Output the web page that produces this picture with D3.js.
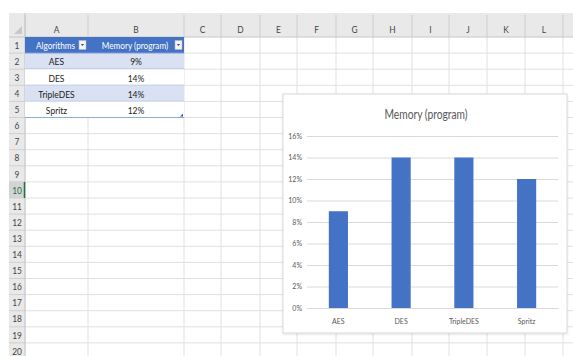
<!DOCTYPE html>
<html><head><meta charset="utf-8">
<script src="https://cdn.jsdelivr.net/npm/d3@7"></script>
<style>
body{margin:0;background:#fff;}
svg{display:block;font-family:Lato,"Open Sans",sans-serif;}
</style>
</head><body>
<svg id="c" width="573" height="356"></svg>
<script>
// ---- data ----
const categories = ["AES", "DES", "TripleDES", "Spritz"];
const memoryValues = [0.09, 0.14, 0.14, 0.12];
const yTicks = [0, 0.02, 0.04, 0.06, 0.08, 0.10, 0.12, 0.14, 0.16];
const tableHeaders = ["Algorithms", "Memory (program)"];
const columnLetters = ["A","B","C","D","E","F","G","H","I","J","K","L",""];
const rowNumbers = d3.range(1, 21);
const chartTitle = "Memory (program)";

// ---- layout ----
const svg = d3.select("#c");
const colEdges = [25, 88, 184, 221, 260, 297, 336, 373, 412, 449, 487, 525, 563, 601];
const headTop = 13, headBot = 37, rowH = 16.1, rowHeadL = 9;
const rowY = d3.scaleLinear().domain([1, 2]).range([headBot, headBot + rowH]); // top of row r

function txt(g, x, y, s, o) {
  o = o || {};
  return g.append("text")
    .attr("transform", `translate(${x},${y}) scale(${o.sx || 0.88},1)`)
    .attr("text-anchor", o.anchor || "middle")
    .attr("dominant-baseline", "central")
    .attr("font-size", o.size || 9)
    .attr("font-weight", o.weight || 400)
    .attr("fill", o.fill || "#333")
    .text(s);
}

// header row background
svg.append("rect").attr("x", rowHeadL).attr("y", headTop).attr("width", 573 - rowHeadL).attr("height", headBot - headTop).attr("fill", "#e9e9e9");
// row header background
svg.append("rect").attr("x", rowHeadL).attr("y", headBot).attr("width", colEdges[0] - rowHeadL).attr("height", 356 - headBot).attr("fill", "#e9e9e9");
// corner triangle
svg.append("path").attr("d", `M${colEdges[0]-3},${headBot-3} L${colEdges[0]-3},${headBot-11} L${colEdges[0]-11},${headBot-3} Z`).attr("fill", "#c8c8c8");

// grid lines
const grid = svg.append("g");
colEdges.forEach(x => grid.append("line").attr("x1", x).attr("x2", x).attr("y1", headBot).attr("y2", 356).attr("stroke", "#e0e0e0").attr("stroke-width", 1));
rowNumbers.forEach(r => grid.append("line").attr("x1", colEdges[0]).attr("x2", 573).attr("y1", rowY(r + 1)).attr("y2", rowY(r + 1)).attr("stroke", "#e0e0e0"));
// header separators
colEdges.forEach(x => svg.append("line").attr("x1", x).attr("x2", x).attr("y1", headTop + 2).attr("y2", headBot).attr("stroke", "#cdcdcd"));
rowNumbers.forEach(r => svg.append("line").attr("x1", rowHeadL).attr("x2", colEdges[0]).attr("y1", rowY(r + 1)).attr("y2", rowY(r + 1)).attr("stroke", "#d0d0d0"));
svg.append("line").attr("x1", rowHeadL).attr("x2", 573).attr("y1", headBot).attr("y2", headBot).attr("stroke", "#c6c6c6");
svg.append("line").attr("x1", colEdges[0]).attr("x2", colEdges[0]).attr("y1", headTop).attr("y2", 356).attr("stroke", "#c6c6c6");

// column letters
columnLetters.forEach((c, i) => { if (c) txt(svg, (colEdges[i] + colEdges[i + 1]) / 2, (headTop + headBot) / 2 + 4, c, {size: 9.5, fill: "#444"}); });
// row numbers (row 10 active)
const activeRow = 10;
svg.append("rect").attr("x", rowHeadL).attr("y", rowY(activeRow)).attr("width", colEdges[0] - rowHeadL).attr("height", rowH).attr("fill", "#d4d4d4");
svg.append("line").attr("x1", colEdges[0] - 0.5).attr("x2", colEdges[0] - 0.5).attr("y1", rowY(activeRow)).attr("y2", rowY(activeRow + 1)).attr("stroke", "#217346").attr("stroke-width", 1.5);
rowNumbers.forEach(r => txt(svg, (rowHeadL + colEdges[0]) / 2, rowY(r) + rowH / 2, r, {size: 9.5, fill: r === activeRow ? "#217346" : "#444"}));

// ---- table ----
const tbl = svg.append("g");
const tableRows = categories.map((c, i) => [c, d3.format(".0%")(memoryValues[i])]);
tableHeaders.forEach((h, j) => {
  tbl.append("rect").attr("x", colEdges[j]).attr("y", rowY(1)).attr("width", colEdges[j + 1] - colEdges[j]).attr("height", rowH).attr("fill", "#4472c4");
});
tableRows.forEach((row, i) => {
  const r = i + 2;
  tbl.append("rect").attr("x", colEdges[0]).attr("y", rowY(r)).attr("width", colEdges[2] - colEdges[0]).attr("height", rowH)
    .attr("fill", i % 2 === 0 ? "#d9e1f2" : "#ffffff");
  tbl.append("line").attr("x1", colEdges[0]).attr("x2", colEdges[2]).attr("y1", rowY(r + 1)).attr("y2", rowY(r + 1)).attr("stroke", "#8ea9db");
  row.forEach((v, j) => txt(tbl, (colEdges[j] + colEdges[j + 1]) / 2, rowY(r) + rowH / 2 + 0.5, v, {size: 10, fill: "#222", sx: 0.85}));
});
tbl.append("line").attr("x1", colEdges[0]).attr("x2", colEdges[2]).attr("y1", rowY(2)).attr("y2", rowY(2)).attr("stroke", "#8ea9db");
tableHeaders.forEach((h, j) => {
  txt(tbl, (colEdges[j] + colEdges[j + 1]) / 2 - 1, rowY(1) + rowH / 2 + 0.5, h, {size: 10, fill: "#fff", weight: 400, sx: 0.82});
  const bx = colEdges[j + 1] - 9;
  tbl.append("rect").attr("x", bx).attr("y", rowY(1) + 3.5).attr("width", 7).attr("height", 9).attr("fill", "#f3f3f3").attr("stroke", "#b8b8b8").attr("stroke-width", 0.5);
  tbl.append("path").attr("d", `M${bx + 1.8},${rowY(1) + 7} L${bx + 5.2},${rowY(1) + 7} L${bx + 3.5},${rowY(1) + 9} Z`).attr("fill", "#555");
});
// resize handle
tbl.append("path").attr("d", `M${colEdges[2] - 1},${rowY(6) - 4} L${colEdges[2] - 1},${rowY(6) - 1} L${colEdges[2] - 4},${rowY(6) - 1} Z`).attr("fill", "#2f5597");

// ---- chart ----
const box = {x: 283, y: 94, w: 284, h: 239};
const defs = svg.append("defs");
const f = defs.append("filter").attr("id", "sh").attr("x", "-5%").attr("y", "-5%").attr("width", "110%").attr("height", "110%");
f.append("feDropShadow").attr("dx", 0).attr("dy", 1).attr("stdDeviation", 1.2).attr("flood-color", "#000").attr("flood-opacity", 0.12);
svg.append("rect").attr("x", box.x).attr("y", box.y).attr("width", box.w).attr("height", box.h)
  .attr("fill", "#fff").attr("stroke", "#d9d9d9").attr("stroke-width", 1).attr("filter", "url(#sh)");

const plot = {l: 307, r: 558, t: 136, b: 308};
const x = d3.scaleBand().domain(categories).range([plot.l, plot.r]).paddingInner(0.695).paddingOuter(0.3475);
const y = d3.scaleLinear().domain([0, 0.16]).range([plot.b, plot.t]);

txt(svg, (box.x + box.x + box.w) / 2 + 1, 114, chartTitle, {size: 12.5, fill: "#595959", sx: 0.82});

const yAxis = svg.append("g").attr("transform", `translate(${plot.l},0)`)
  .call(d3.axisLeft(y).tickValues(yTicks).tickFormat(d3.format(".0%")).tickSize(-(plot.r - plot.l)).tickPadding(5));
yAxis.select(".domain").remove();
yAxis.selectAll(".tick line").attr("stroke", "#d9d9d9").attr("stroke-width", 1);
yAxis.selectAll(".tick text").attr("font-family", "Lato, sans-serif").attr("font-size", 7).attr("fill", "#595959");

svg.append("g").selectAll("rect").data(categories).join("rect")
  .attr("x", d => x(d)).attr("width", x.bandwidth())
  .attr("y", (d, i) => y(memoryValues[i])).attr("height", (d, i) => y(0) - y(memoryValues[i]))
  .attr("fill", "#4472c4");

const xAxis = svg.append("g").attr("transform", `translate(0,${plot.b})`)
  .call(d3.axisBottom(x).tickSize(0).tickPadding(11));
xAxis.select(".domain").attr("stroke", "#d9d9d9");
xAxis.selectAll(".tick text").attr("font-family", "Lato, sans-serif").attr("font-size", 7).attr("fill", "#595959");
</script>
</body></html>
